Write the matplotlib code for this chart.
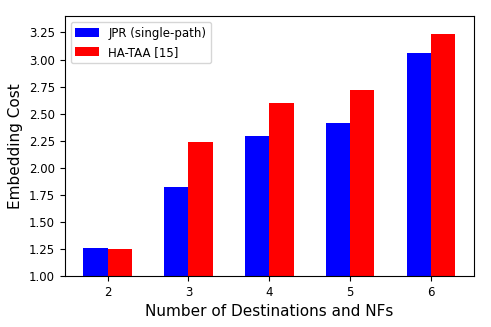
import numpy as np
from matplotlib import pyplot as plt

# datos
destinos = [2, 3, 4, 5, 6]
jpr = [1.26, 1.82, 2.29, 2.41, 3.06]
hataa = [1.25, 2.24, 2.60, 2.72, 3.24]
yticks = [1.00, 1.25, 1.50, 1.75, 2.00, 2.25, 2.50, 2.75, 3.00, 3.25]

x = np.array(destinos)
ancho = 0.3

fig = plt.figure(figsize=(4.91, 3.27), dpi=100)
ax = fig.add_axes([0.132, 0.156, 0.833, 0.795])

ax.bar(x - ancho / 2, jpr, ancho, color="blue", label="JPR (single-path)")
ax.bar(x + ancho / 2, hataa, ancho, color="red", label="HA-TAA [15]")

ax.set_ylim(bottom=1.0)
ax.set_yticks(yticks)
ax.set_xticks(x)
ax.tick_params(labelsize=8.5)
ax.set_xlabel("Number of Destinations and NFs", fontsize=11)
ax.set_ylabel("Embedding Cost", fontsize=11)
ax.legend(loc="upper left", fontsize=8.5)

plt.savefig("out.png", dpi=100)
